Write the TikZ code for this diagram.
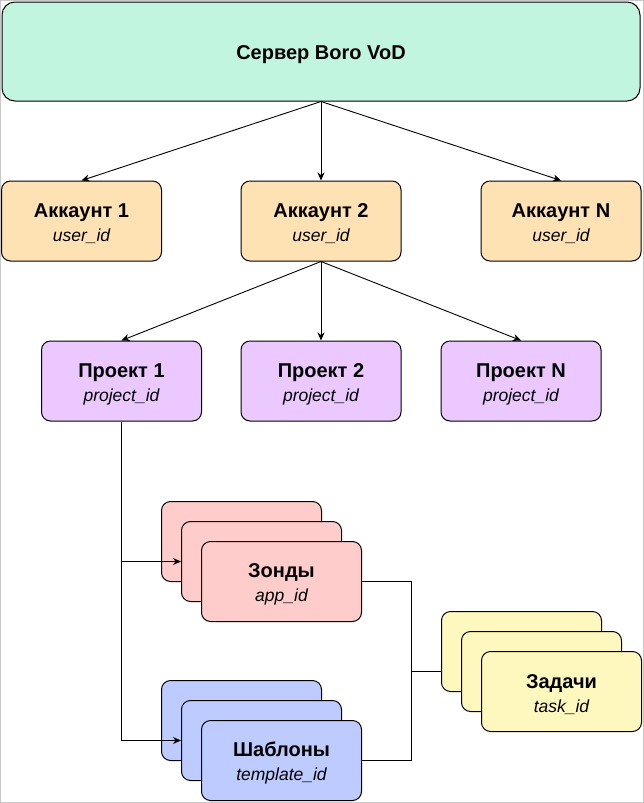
\documentclass[tikz,border=0pt]{standalone}
\usepackage{fontspec}
\setmainfont{Liberation Sans}
\usetikzlibrary{arrows.meta}
\definecolor{srvc}{HTML}{C2F5E0}
\definecolor{accc}{HTML}{FFE2B4}
\definecolor{prjc}{HTML}{EBC8FF}
\definecolor{zndc}{HTML}{FFCCCC}
\definecolor{tplc}{HTML}{BDCBFF}
\definecolor{tskc}{HTML}{FFF8BE}
\definecolor{framec}{HTML}{C8C8C8}
\newcommand{\subid}[1]{{\fontsize{17.5}{24}\selectfont\mdseries\itshape #1}}
\newcommand{\ttl}[1]{\rule{0pt}{20pt}#1}
\tikzset{
  box/.style={draw=black, line width=1pt, rounded corners=9pt, minimum width=160pt,
    minimum height=80pt, inner sep=0pt, align=center,
    font=\fontsize{20}{24}\selectfont\bfseries},
  arr/.style={-{Stealth[length=8pt,width=7pt,inset=2.5pt]}, line width=0.9pt},
  ln/.style={line width=1pt},
}
\begin{document}
\begin{tikzpicture}[x=1pt,y=-1pt]
\useasboundingbox (0,0) rectangle (644,803);
\draw[framec, line width=1pt] (0.5,0.5) rectangle (643.5,802.5);
% server
\node[box, fill=srvc, minimum width=638pt, minimum height=99pt, rounded corners=13pt,
  font=\fontsize{20}{24}\selectfont\bfseries] (srv) at (321,51.5) {\ttl{Сервер Boro VoD}};
% accounts
\node[box, fill=accc] (a1) at (81.5,221) {\ttl{Аккаунт 1}\\\subid{user\_id}};
\node[box, fill=accc] (a2) at (321,221) {\ttl{Аккаунт 2}\\\subid{user\_id}};
\node[box, fill=accc] (an) at (561,221) {\ttl{Аккаунт N}\\\subid{user\_id}};
% projects
\node[box, fill=prjc] (p1) at (121.5,381) {\ttl{Проект 1}\\\subid{project\_id}};
\node[box, fill=prjc] (p2) at (321,381) {\ttl{Проект 2}\\\subid{project\_id}};
\node[box, fill=prjc] (pn) at (521,381) {\ttl{Проект N}\\\subid{project\_id}};
% probes stack
\node[box, fill=zndc] (z1) at (241.5,541.5) {};
\node[box, fill=zndc] (z2) at (261.5,561.5) {};
\node[box, fill=zndc] (z3) at (281.5,581.5) {\ttl{Зонды}\\\subid{app\_id}};
% templates stack
\node[box, fill=tplc] (s1) at (241.5,720.5) {};
\node[box, fill=tplc] (s2) at (261.5,740.5) {};
\node[box, fill=tplc] (s3) at (281.5,760.5) {\ttl{Шаблоны}\\\subid{template\_id}};
% tasks stack
\node[box, fill=tskc] (q1) at (521.5,651.5) {};
\node[box, fill=tskc] (q2) at (541.5,671.5) {};
\node[box, fill=tskc] (q3) at (561.5,691.5) {\ttl{Задачи}\\\subid{task\_id}};
% connectors
\draw[arr] (srv.south) -- (a1.north);
\draw[arr] (srv.south) -- (a2.north);
\draw[arr] (srv.south) -- (an.north);
\draw[arr] (a2.south) -- (p1.north);
\draw[arr] (a2.south) -- (p2.north);
\draw[arr] (a2.south) -- (pn.north);
\draw[arr] (p1.south) |- (z2.west);
\draw[arr] (p1.south) |- (s2.west);
\coordinate (jx) at (411.5,671);
\draw[ln] (z3.east) -| (jx) |- (s3.east);
\draw[ln] (jx) -- (q1.west |- jx);
\end{tikzpicture}
\end{document}
